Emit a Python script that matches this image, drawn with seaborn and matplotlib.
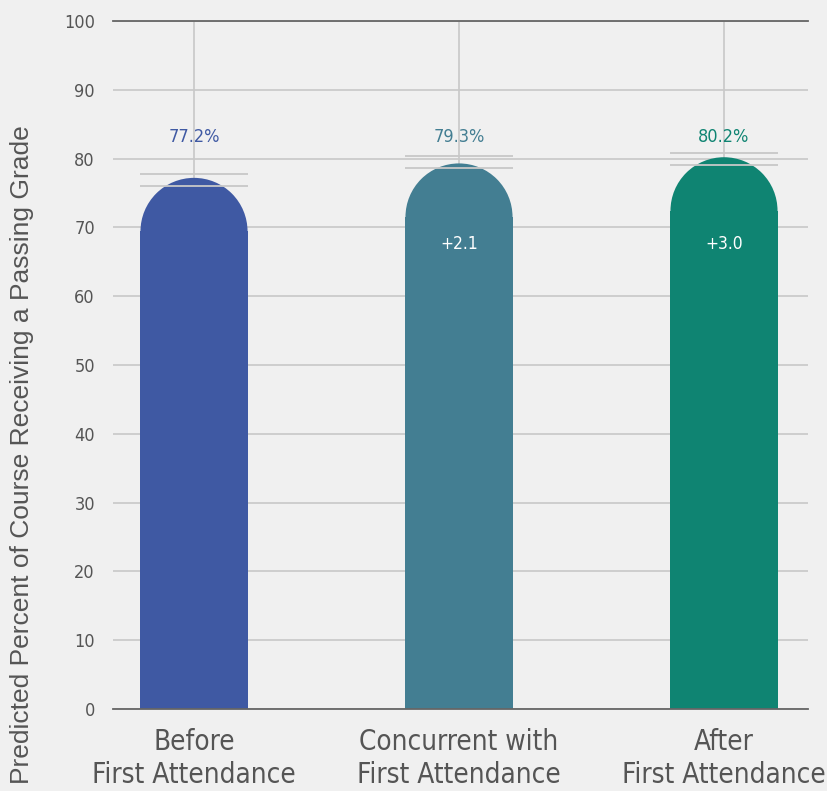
import matplotlib
matplotlib.use("Agg")
import matplotlib.pyplot as plt
import seaborn as sns
import pandas as pd
from matplotlib.patches import Ellipse

categories = ["Before\nFirst Attendance", "Concurrent with\nFirst Attendance", "After\nFirst Attendance"]
values = [77.2, 79.3, 80.2]
ci_low = [76.0, 78.6, 79.1]
ci_high = [77.8, 80.4, 80.85]
value_labels = ["77.2%", "79.3%", "80.2%"]
diff_labels = ["", "+2.1", "+3.0"]
colors = ["#3F59A3", "#437E92", "#0F8472"]
yticks = [0, 10, 20, 30, 40, 50, 60, 70, 80, 90, 100]

sns.set_theme(style="white")
plt.rcParams["font.family"] = ["DejaVu Sans"]
plt.rcParams["font.stretch"] = "condensed"

BG = "#F0F0F0"
fig = plt.figure(figsize=(8.27, 7.91), dpi=100, facecolor=BG)
ax = fig.add_axes([113/827, 1-709/791, (808-113)/827, (709-21)/791])
ax.set_facecolor(BG)

df = pd.DataFrame({"cat": categories, "val": values})
sns.barplot(data=df, x="cat", y="val", hue="cat", palette=colors, width=0.404,
            legend=False, ax=ax, saturation=1, zorder=2, linewidth=0, edgecolor="none")

ax.set_xlim(-0.3057, 2.317)
ax.set_ylim(0, 100)
ax.set_yticks(yticks)
ax.set_axisbelow(True)
ax.yaxis.grid(True, color="#C8C8C8", lw=1.2)
ax.xaxis.grid(True, color="#C8C8C8", lw=1.2)
for s in ["left", "right"]:
    ax.spines[s].set_visible(False)
for s in ["top", "bottom"]:
    ax.spines[s].set_visible(True)
    ax.spines[s].set_color("#666666")
    ax.spines[s].set_linewidth(1.3)
    ax.spines[s].set_zorder(5)

# rounded tops
fig.canvas.draw()
pxx = ax.transData.transform([[1, 0]])[0][0] - ax.transData.transform([[0, 0]])[0][0]
pxy = ax.transData.transform([[0, 1]])[0][1] - ax.transData.transform([[0, 0]])[0][1]
for p, c in zip(ax.patches, colors):
    w = p.get_width()
    h = p.get_height()
    r = (w * pxx / 2) / pxy
    p.set_height(h - r)
    cx = p.get_x() + w / 2
    ax.add_patch(Ellipse((cx, h - r), w, 2 * r, facecolor=c, edgecolor="none", lw=0, zorder=2))

for i in range(len(values)):
    ax.hlines([ci_low[i], ci_high[i]], i - 0.202, i + 0.202, color="#C8C8C8", lw=1.3, zorder=4)
    ax.text(i, 83.1, value_labels[i], ha="center", va="center", color=colors[i], fontsize=13)
    if diff_labels[i]:
        ax.text(i, 67.6, diff_labels[i], ha="center", va="center", color="white", fontsize=12.5)

ax.tick_params(axis="y", length=0, pad=13, labelsize=13, labelcolor="#555555")
ax.tick_params(axis="x", length=0, pad=14, labelsize=20, labelcolor="#555555")
for t in ax.get_xticklabels():
    t.set_linespacing(1.2)
ax.set_xlabel("")
ax.set_ylabel("")

fig.text(22/827, 1-455/791, "Predicted Percent of Course Receiving a Passing Grade",
         rotation=90, ha="center", va="center", fontsize=19, color="#555555",
         family=["Liberation Sans", "DejaVu Sans"], fontstretch="normal")

fig.savefig("out.png", dpi=100, facecolor=BG)
